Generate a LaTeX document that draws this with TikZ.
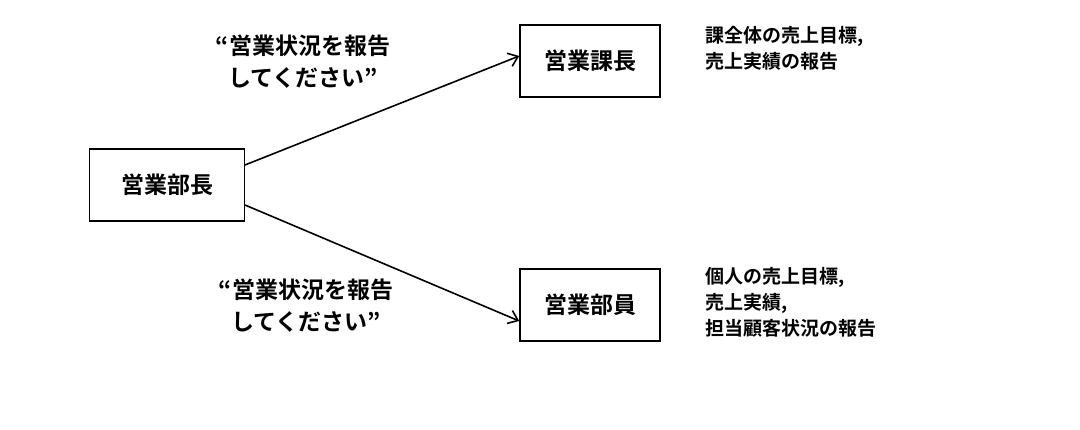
\documentclass[tikz,border=0pt]{standalone}
\usepackage{fontspec}
\setmainfont{Noto Sans CJK JP}[BoldFont={Noto Sans CJK JP Bold}]
\usetikzlibrary{arrows.meta}
\begin{document}
\begin{tikzpicture}[x=1pt,y=-1pt,font=\bfseries\fontsize{19}{26}\selectfont,
  box/.style={draw,line width=1.6pt,minimum height=72pt,inner sep=0pt,font=\bfseries\fontsize{23}{28}\selectfont},
  txt/.style={align=left,anchor=north west,inner sep=0pt},
  lab/.style={align=center,inner sep=0pt,font=\bfseries\fontsize{23}{32}\selectfont},
  conn/.style={line width=1.6pt,-{Straight Barb[length=9pt,width=14pt]}}]
\useasboundingbox (0,0) rectangle (1080,430);
\node[box,minimum width=155pt] (a) at (167,185) {営業部長};
\node[box,minimum width=140pt] (b) at (590,61) {営業課長};
\node[box,minimum width=140pt] (c) at (590,305) {営業部員};
\draw[conn] (245,165) coordinate (s1) -- (b.west|-0,56);
\draw[conn] (245,205) coordinate (s2) -- (c.west|-0,321);
\node[lab] (l1) at (303,62) {“営業状況を報告\\してください”};
\node[lab] (l2) at (306,306) {“営業状況を報告\\してください”};
\node[txt] (t1) at (705,26) {課全体の売上目標,\\売上実績の報告};
\node[txt] (t2) at (705,267) {個人の売上目標,\\売上実績,\\担当顧客状況の報告};
\end{tikzpicture}
\end{document}
